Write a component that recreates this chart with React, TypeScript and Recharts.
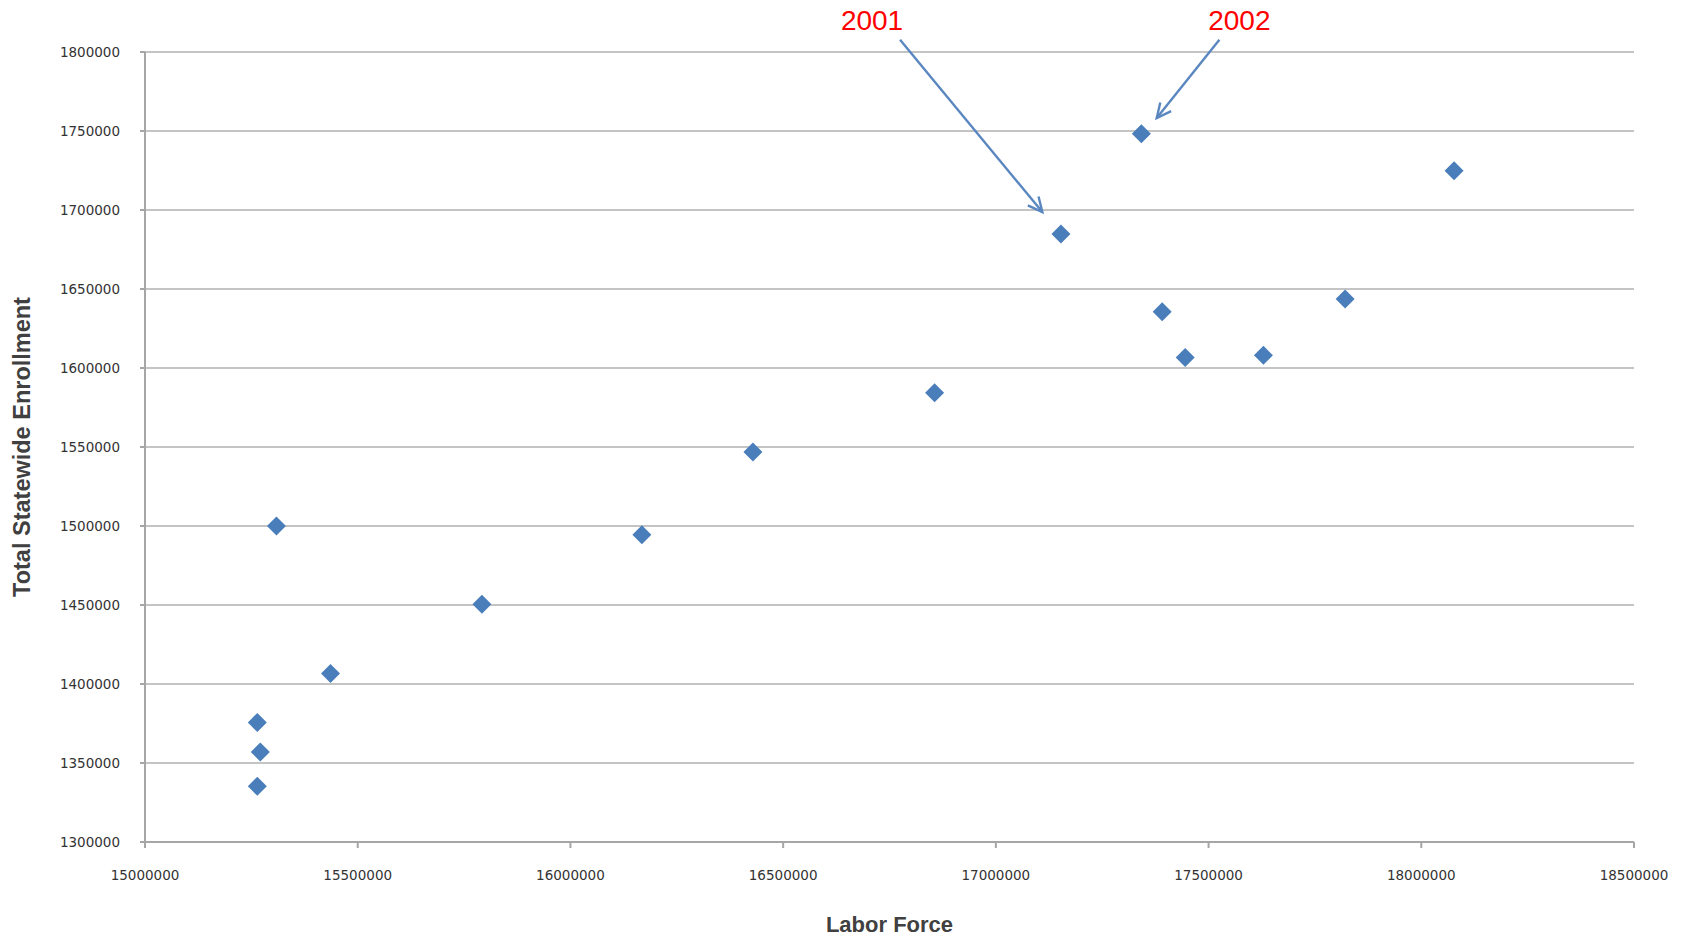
import React from "react";
import {
  ScatterChart,
  Scatter,
  XAxis,
  YAxis,
  CartesianGrid,
  ReferenceLine,
} from "recharts";

// labor force vs total statewide enrollment, one point per year
const laborForce = [
  15264000, 15271000, 15264000, 15309000, 15436000, 15792000, 16168000, 16429000,
  16856000, 17153000, 17342000, 17391000, 17445000, 17629000, 17821000, 18077000,
];
const enrollment = [
  1375600, 1357000, 1335300, 1500000, 1406600, 1450400, 1494500, 1546900,
  1584300, 1684800, 1748300, 1635600, 1606700, 1608000, 1643700, 1724900,
];

const xTicks = [15000000, 15500000, 16000000, 16500000, 17000000, 17500000, 18000000, 18500000];
const yTicks = [1300000, 1350000, 1400000, 1450000, 1500000, 1550000, 1600000, 1650000, 1700000, 1750000, 1800000];

// callout arrows: label, tail (x, y) and head (x, y) in data units
const calloutYears = ["2001", "2002"];
const calloutTail = [
  [16774800, 1807800],
  [17525400, 1807800],
];
const calloutHead = [
  [17109300, 1698700],
  [17378100, 1758200],
];
const calloutTextShift = [-28, 20];

const points = laborForce.map((x, i) => ({ x, y: enrollment[i] }));

const BLUE = "#4a7ebb";
const TICK_STYLE = { fontSize: 13.5, fill: "#333333", fontFamily: "DejaVu Sans" };

function Diamond(props: any) {
  const { cx, cy } = props;
  const r = 9.5;
  return (
    <polygon
      points={`${cx},${cy - r} ${cx + r},${cy} ${cx},${cy + r} ${cx - r},${cy}`}
      fill={BLUE}
    />
  );
}

function calloutShape(label: string, shift: number) {
  return (props: any) => {
    const { x1, y1, x2, y2 } = props;
    const ang = Math.atan2(y2 - y1, x2 - x1);
    const len = 16;
    const spread = Math.PI / 7;
    const ax = x2 - len * Math.cos(ang - spread);
    const ay = y2 - len * Math.sin(ang - spread);
    const bx = x2 - len * Math.cos(ang + spread);
    const by = y2 - len * Math.sin(ang + spread);
    return (
      <g>
        <line x1={x1} y1={y1} x2={x2} y2={y2} stroke="#5b87c0" strokeWidth={2.4} />
        <polyline
          points={`${ax},${ay} ${x2},${y2} ${bx},${by}`}
          fill="none"
          stroke="#5b87c0"
          strokeWidth={2.4}
        />
        <text
          x={x1 + shift}
          y={y1 - 10}
          textAnchor="middle"
          fill="#ff0000"
          fontSize={28}
          fontFamily="Liberation Sans"
        >
          {label}
        </text>
      </g>
    );
  };
}

export default function App() {
  return (
    <div style={{ position: "absolute", left: 0, top: 0, width: 1686, height: 937, background: "#fff" }}>
      <ScatterChart width={1686} height={937} margin={{ top: 52, right: 52, bottom: 0, left: 0 }}>
        <CartesianGrid vertical={false} stroke="#c4c4c4" strokeWidth={2} />
        <XAxis
          type="number"
          dataKey="x"
          domain={[15000000, 18500000]}
          ticks={xTicks}
          height={95}
          stroke="#a6a6a6"
          strokeWidth={2}
          tickSize={6}
          tickMargin={22}
          tick={TICK_STYLE}
          label={{
            content: (p: any) => {
              const vb = p.viewBox;
              return (
                <text
                  x={vb.x + vb.width / 2}
                  y={vb.y + vb.height - 5}
                  textAnchor="middle"
                  fontSize={22}
                  fontWeight="bold"
                  fill="#404040"
                  fontFamily="Liberation Sans"
                >
                  Labor Force
                </text>
              );
            },
          }}
        />
        <YAxis
          type="number"
          dataKey="y"
          domain={[1300000, 1800000]}
          ticks={yTicks}
          width={145}
          stroke="#a6a6a6"
          strokeWidth={2}
          tickSize={5}
          tickMargin={20}
          tick={TICK_STYLE}
          label={{
            content: (p: any) => {
              const vb = p.viewBox;
              const cx = 30;
              const cy = vb.y + vb.height / 2;
              return (
                <text
                  x={cx}
                  y={cy}
                  transform={`rotate(-90 ${cx} ${cy})`}
                  textAnchor="middle"
                  fontSize={23.5}
                  fontWeight="bold"
                  fill="#404040"
                  fontFamily="Liberation Sans"
                >
                  Total Statewide Enrollment
                </text>
              );
            },
          }}
        />
        <Scatter data={points} shape={Diamond} isAnimationActive={false} />
        {calloutYears.map((year, i) => (
          <ReferenceLine
            key={year}
            segment={[
              { x: calloutTail[i][0], y: calloutTail[i][1] },
              { x: calloutHead[i][0], y: calloutHead[i][1] },
            ]}
            ifOverflow="visible"
            shape={calloutShape(year, calloutTextShift[i])}
          />
        ))}
      </ScatterChart>
    </div>
  );
}
